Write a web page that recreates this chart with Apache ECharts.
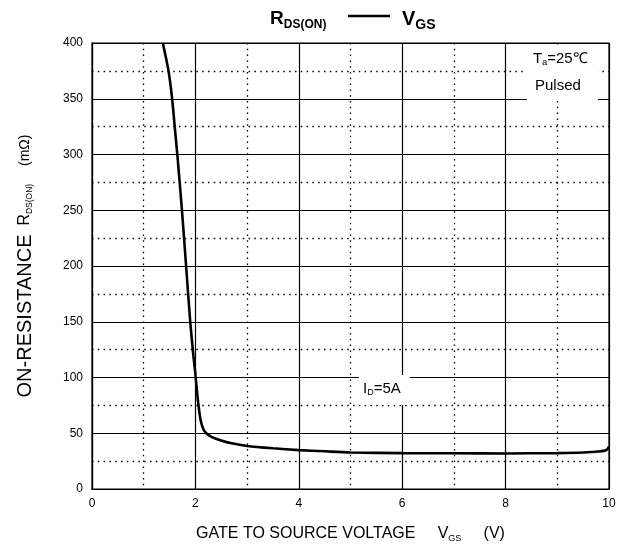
<!DOCTYPE html>
<html>
<head>
<meta charset="utf-8">
<script src="https://cdn.jsdelivr.net/npm/echarts@6/dist/echarts.min.js"></script>
<style>
html,body{margin:0;padding:0;background:#fff;}
#c{width:625px;height:549px;}
</style>
</head>
<body>
<div id="c"></div>
<script>
// Data
var vgs = [1.37, 1.48, 1.55, 1.60, 1.65, 1.74, 1.82, 1.90, 1.96, 2.00, 2.03, 2.06, 2.10, 2.15, 2.22, 2.32, 2.48, 2.7, 3.0, 3.5, 4.0, 4.5, 5.0, 6.0, 7.0, 8.0, 9.0, 9.5, 9.8, 9.95, 10.0];
var rds = [400, 375, 350, 325, 300, 250, 200, 150, 120, 103, 88, 75, 62, 54, 49.5, 46.5, 43.8, 41, 38.6, 36.5, 34.9, 33.8, 32.8, 32.2, 32.0, 31.9, 32.2, 32.7, 33.6, 35.0, 38.0];
var xTicks = [0, 2, 4, 6, 8, 10];
var yTicks = [0, 50, 100, 150, 200, 250, 300, 350, 400];

var FONT = 'Liberation Sans, Arial, sans-serif';
var chart = echarts.init(document.getElementById('c'), null, {renderer: 'canvas'});
var pts = vgs.map(function (v, i) { return [v, rds[i]]; });

chart.setOption({
  animation: false,
  backgroundColor: '#fff',
  grid: {left: 92, right: 16, top: 43, bottom: 60, show: true, borderColor: '#000', borderWidth: 1.2},
  xAxis: {
    type: 'value', min: 0, max: 10, interval: 2,
    axisLine: {show: true, lineStyle: {color: '#000', width: 1.2}},
    axisTick: {show: false},
    axisLabel: {color: '#000', fontFamily: FONT, fontSize: 12, margin: 9},
    splitLine: {show: true, lineStyle: {color: '#000', width: 1.2}},
    minorTick: {show: false, splitNumber: 2},
    minorSplitLine: {show: true, lineStyle: {color: '#000', width: 1.3, type: [1.5, 4.3]}},
    name: 'GATE TO SOURCE VOLTAGE     V{sub|GS}     (V)',
    nameLocation: 'middle', nameGap: 35,
    nameTextStyle: {color: '#000', fontFamily: FONT, fontSize: 16,
      rich: {sub: {fontSize: 9, fontFamily: FONT, color: '#000', padding: [10, 0, 0, 0]}}}
  },
  yAxis: {
    type: 'value', min: 0, max: 400, interval: 50,
    axisLine: {show: true, lineStyle: {color: '#000', width: 1.2}},
    axisTick: {show: false},
    axisLabel: {color: '#000', fontFamily: FONT, fontSize: 12, margin: 9},
    splitLine: {show: true, lineStyle: {color: '#000', width: 1.2}},
    minorTick: {show: false, splitNumber: 2},
    minorSplitLine: {show: true, lineStyle: {color: '#000', width: 1.3, type: [1.5, 4.3]}},
    name: '{a|ON-RESISTANCE}  R{sub|DS(ON)}    {m|(mΩ)}',
    nameLocation: 'middle', nameGap: 57, nameRotate: 90,
    nameTextStyle: {color: '#000', fontFamily: FONT, fontSize: 16,
      rich: {
        a: {fontSize: 20, fontFamily: FONT, color: '#000'},
        m: {fontSize: 14, fontFamily: FONT, color: '#000'},
        sub: {fontSize: 8.5, fontFamily: FONT, color: '#000', padding: [10, 0, 0, 0]}
      }}
  },
  series: [{
    type: 'line', data: pts, showSymbol: false, smooth: 0.25,
    lineStyle: {color: '#000', width: 2.6}, z: 5
  }],
  graphic: [
    {type: 'text', left: 270, top: 9, z: 10,
      style: {text: '{b|R}{s|DS(ON)}', fill: '#000',
        rich: {b: {fontSize: 19, fontWeight: 'bold', fontFamily: FONT}, s: {fontSize: 12, fontWeight: 'bold', fontFamily: FONT, padding: [13, 0, 0, 0]}}}},
    {type: 'line', z: 10, shape: {x1: 348, y1: 16, x2: 390, y2: 16}, style: {stroke: '#000', lineWidth: 2.4}},
    {type: 'text', left: 402, top: 9, z: 10,
      style: {text: '{b|V}{s|GS}', fill: '#000',
        rich: {b: {fontSize: 20, fontWeight: 'bold', fontFamily: FONT}, s: {fontSize: 14, fontWeight: 'bold', fontFamily: FONT, padding: [12, 0, 0, 0]}}}},
    {type: 'rect', z: 8, shape: {x: 527, y: 47, width: 71, height: 53}, style: {fill: '#fff'}},
    {type: 'text', left: 533, top: 51, z: 10,
      style: {text: '{n|T}{s|a}{n|=25℃}', fill: '#000',
        rich: {n: {fontSize: 15, fontFamily: FONT}, s: {fontSize: 9, fontFamily: FONT, padding: [9, 0, 0, 0]}}}},
    {type: 'rect', z: 8, shape: {x: 359, y: 375, width: 51, height: 30}, style: {fill: '#fff'}},
    {type: 'text', left: 535, top: 78, z: 10,
      style: {text: 'Pulsed', fill: '#000', fontSize: 15, fontFamily: FONT}},
    {type: 'text', left: 363, top: 381, z: 10,
      style: {text: '{n|I}{s|D}{n|=5A}', fill: '#000',
        rich: {n: {fontSize: 15, fontFamily: FONT}, s: {fontSize: 9, fontFamily: FONT, padding: [9, 0, 0, 0]}}}}
  ]
});
</script>
</body>
</html>
